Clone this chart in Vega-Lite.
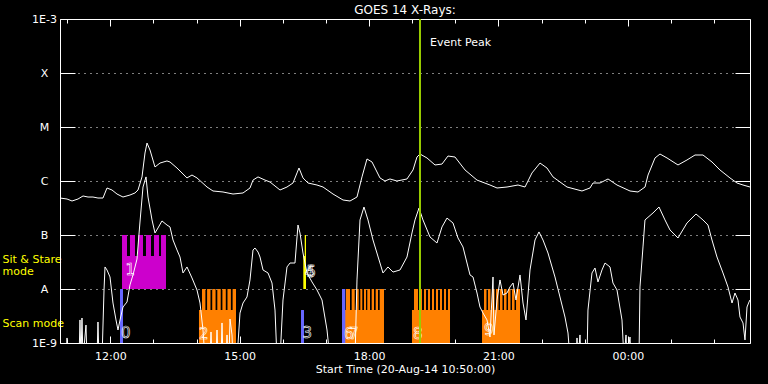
{
  "$schema": "https://vega.github.io/schema/vega-lite/v6.json",
  "width": 690,
  "height": 324,
  "autosize": {"type": "none"},
  "padding": {"left": 60, "top": 19, "right": 18, "bottom": 41},
  "background": "black",
  "title": {"text": "GOES 14 X-Rays:", "color": "white", "font": "DejaVu Sans", "fontSize": 12, "fontWeight": "normal", "anchor": "middle", "frame": "group", "offset": -4},
  "datasets": {
    "long": [
      {"h": 10.833, "flux": 4.84e-7}, {"h": 10.996, "flux": 4.64e-7}, {"h": 11.112, "flux": 4.26e-7}, {"h": 11.251, "flux": 4.64e-7},
      {"h": 11.367, "flux": 5.28e-7}, {"h": 11.483, "flux": 5.05e-7}, {"h": 11.598, "flux": 5.05e-7}, {"h": 11.714, "flux": 4.84e-7},
      {"h": 11.830, "flux": 4.84e-7}, {"h": 11.923, "flux": 7.42e-7}, {"h": 12.039, "flux": 6.81e-7}, {"h": 12.155, "flux": 5.74e-7},
      {"h": 12.294, "flux": 5.05e-7}, {"h": 12.456, "flux": 5.50e-7}, {"h": 12.572, "flux": 6.00e-7}, {"h": 12.642, "flux": 6.81e-7},
      {"h": 12.735, "flux": 1.19e-6}, {"h": 12.804, "flux": 3.30e-6}, {"h": 12.851, "flux": 5.05e-6}, {"h": 12.920, "flux": 3.75e-6},
      {"h": 13.036, "flux": 1.82e-6}, {"h": 13.152, "flux": 2.15e-6}, {"h": 13.314, "flux": 2.35e-6}, {"h": 13.384, "flux": 2.25e-6},
      {"h": 13.546, "flux": 1.74e-6}, {"h": 13.778, "flux": 1.14e-6}, {"h": 13.894, "flux": 1.29e-6}, {"h": 14.010, "flux": 1.14e-6},
      {"h": 14.242, "flux": 7.74e-7}, {"h": 14.381, "flux": 6.53e-7}, {"h": 14.613, "flux": 6.26e-7}, {"h": 14.845, "flux": 5.74e-7},
      {"h": 15.077, "flux": 6.00e-7}, {"h": 15.239, "flux": 7.42e-7}, {"h": 15.309, "flux": 1.04e-6}, {"h": 15.425, "flux": 1.19e-6},
      {"h": 15.587, "flux": 1.04e-6}, {"h": 15.703, "flux": 9.58e-7}, {"h": 15.935, "flux": 6.81e-7}, {"h": 16.097, "flux": 7.74e-7},
      {"h": 16.236, "flux": 9.18e-7}, {"h": 16.329, "flux": 1.41e-6}, {"h": 16.375, "flux": 1.74e-6}, {"h": 16.468, "flux": 1.14e-6},
      {"h": 16.584, "flux": 9.18e-7}, {"h": 16.792, "flux": 8.43e-7}, {"h": 16.932, "flux": 7.74e-7}, {"h": 17.164, "flux": 5.74e-7},
      {"h": 17.396, "flux": 4.45e-7}, {"h": 17.558, "flux": 4.26e-7}, {"h": 17.720, "flux": 5.05e-7}, {"h": 17.836, "flux": 1.19e-6},
      {"h": 17.952, "flux": 2.56e-6}, {"h": 18.068, "flux": 2.25e-6}, {"h": 18.253, "flux": 1.14e-6}, {"h": 18.369, "flux": 1.00e-6},
      {"h": 18.485, "flux": 1.09e-6}, {"h": 18.647, "flux": 1.00e-6}, {"h": 18.879, "flux": 1.09e-6}, {"h": 19.019, "flux": 1.60e-6},
      {"h": 19.111, "flux": 2.78e-6}, {"h": 19.181, "flux": 3.16e-6}, {"h": 19.343, "flux": 2.67e-6}, {"h": 19.529, "flux": 1.98e-6},
      {"h": 19.691, "flux": 2.06e-6}, {"h": 19.830, "flux": 2.90e-6}, {"h": 19.993, "flux": 2.78e-6}, {"h": 20.225, "flux": 1.60e-6},
      {"h": 20.503, "flux": 1.04e-6}, {"h": 20.804, "flux": 8.43e-7}, {"h": 20.967, "flux": 7.42e-7}, {"h": 21.199, "flux": 7.74e-7},
      {"h": 21.454, "flux": 8.43e-7}, {"h": 21.616, "flux": 7.74e-7}, {"h": 21.778, "flux": 1.41e-6}, {"h": 21.964, "flux": 2.15e-6},
      {"h": 22.126, "flux": 1.74e-6}, {"h": 22.265, "flux": 1.19e-6}, {"h": 22.590, "flux": 7.74e-7}, {"h": 22.937, "flux": 6.53e-7},
      {"h": 23.123, "flux": 7.42e-7}, {"h": 23.193, "flux": 9.18e-7}, {"h": 23.355, "flux": 9.18e-7}, {"h": 23.541, "flux": 1.09e-6},
      {"h": 23.749, "flux": 8.43e-7}, {"h": 24.051, "flux": 6.53e-7}, {"h": 24.236, "flux": 6.26e-7}, {"h": 24.399, "flux": 7.74e-7},
      {"h": 24.469, "flux": 1.29e-6}, {"h": 24.631, "flux": 2.67e-6}, {"h": 24.746, "flux": 3.16e-6}, {"h": 24.909, "flux": 2.67e-6},
      {"h": 25.164, "flux": 1.98e-6}, {"h": 25.372, "flux": 2.45e-6}, {"h": 25.558, "flux": 3.03e-6}, {"h": 25.743, "flux": 3.03e-6},
      {"h": 25.952, "flux": 2.25e-6}, {"h": 26.137, "flux": 1.60e-6}, {"h": 26.369, "flux": 1.14e-6}, {"h": 26.532, "flux": 9.18e-7},
      {"h": 26.671, "flux": 8.43e-7}, {"h": 26.833, "flux": 7.74e-7}
    ],
    "short": [
      {"h": 10.833, "flux": 5e-10}, {"h": 10.973, "flux": 5e-10}, {"h": 10.996, "flux": 1.24e-9}, {"h": 11.019, "flux": 5e-10},
      {"h": 11.274, "flux": 5e-10}, {"h": 11.297, "flux": 2.67e-9}, {"h": 11.320, "flux": 5e-10}, {"h": 11.343, "flux": 2.90e-9},
      {"h": 11.367, "flux": 5e-10}, {"h": 11.436, "flux": 2.15e-9}, {"h": 11.459, "flux": 5e-10}, {"h": 11.691, "flux": 5e-10},
      {"h": 11.714, "flux": 2.45e-9}, {"h": 11.738, "flux": 5e-10}, {"h": 11.807, "flux": 5e-10}, {"h": 11.854, "flux": 9.58e-9},
      {"h": 11.877, "flux": 2.56e-8}, {"h": 11.923, "flux": 2.25e-8}, {"h": 11.993, "flux": 1.67e-8}, {"h": 12.062, "flux": 5.50e-9},
      {"h": 12.132, "flux": 2.67e-9}, {"h": 12.178, "flux": 1.74e-9}, {"h": 12.225, "flux": 2.67e-9}, {"h": 12.294, "flux": 4.64e-9},
      {"h": 12.387, "flux": 5.74e-9}, {"h": 12.456, "flux": 1.19e-8}, {"h": 12.526, "flux": 1.82e-8}, {"h": 12.619, "flux": 3.59e-8},
      {"h": 12.688, "flux": 1.74e-7}, {"h": 12.758, "flux": 7.74e-7}, {"h": 12.828, "flux": 1.19e-6}, {"h": 12.874, "flux": 5.05e-7},
      {"h": 12.967, "flux": 1.90e-7}, {"h": 13.036, "flux": 1.09e-7}, {"h": 13.106, "flux": 1.35e-7}, {"h": 13.198, "flux": 1.82e-7},
      {"h": 13.314, "flux": 1.53e-7}, {"h": 13.384, "flux": 1.41e-7}, {"h": 13.454, "flux": 8.08e-8}, {"h": 13.546, "flux": 5.28e-8},
      {"h": 13.616, "flux": 3.91e-8}, {"h": 13.686, "flux": 1.98e-8}, {"h": 13.778, "flux": 2.56e-8}, {"h": 13.894, "flux": 1.60e-8},
      {"h": 14.010, "flux": 9.58e-9}, {"h": 14.080, "flux": 5.50e-9}, {"h": 14.149, "flux": 1.74e-9}, {"h": 14.196, "flux": 5e-10},
      {"h": 14.312, "flux": 5e-10}, {"h": 14.335, "flux": 1.60e-9}, {"h": 14.358, "flux": 5e-10}, {"h": 14.451, "flux": 5e-10},
      {"h": 14.474, "flux": 1.74e-9}, {"h": 14.497, "flux": 5e-10}, {"h": 14.567, "flux": 5e-10}, {"h": 14.590, "flux": 2.35e-9},
      {"h": 14.613, "flux": 5e-10}, {"h": 14.683, "flux": 5e-10}, {"h": 14.706, "flux": 1.41e-9}, {"h": 14.729, "flux": 5e-10},
      {"h": 14.752, "flux": 5e-10}, {"h": 14.775, "flux": 2.78e-9}, {"h": 14.822, "flux": 1.41e-9}, {"h": 14.845, "flux": 5e-10},
      {"h": 14.938, "flux": 5e-10}, {"h": 15.007, "flux": 3.59e-9}, {"h": 15.077, "flux": 5.50e-9}, {"h": 15.169, "flux": 7.11e-9},
      {"h": 15.239, "flux": 1.47e-8}, {"h": 15.309, "flux": 5.28e-8}, {"h": 15.355, "flux": 5.74e-8}, {"h": 15.425, "flux": 4.84e-8},
      {"h": 15.471, "flux": 3.91e-8}, {"h": 15.541, "flux": 2.25e-8}, {"h": 15.657, "flux": 1.98e-8}, {"h": 15.749, "flux": 1.29e-8},
      {"h": 15.819, "flux": 4.08e-9}, {"h": 15.865, "flux": 5e-10}, {"h": 15.935, "flux": 5e-10}, {"h": 16.004, "flux": 6.26e-9},
      {"h": 16.097, "flux": 2.56e-8}, {"h": 16.167, "flux": 3.03e-8}, {"h": 16.282, "flux": 3.03e-8}, {"h": 16.352, "flux": 1.53e-7},
      {"h": 16.398, "flux": 1.09e-7}, {"h": 16.468, "flux": 4.64e-8}, {"h": 16.561, "flux": 1.98e-8}, {"h": 16.677, "flux": 1.35e-8},
      {"h": 16.793, "flux": 9.58e-9}, {"h": 16.909, "flux": 6.26e-9}, {"h": 17.025, "flux": 1.74e-9}, {"h": 17.094, "flux": 5e-10},
      {"h": 17.674, "flux": 5e-10}, {"h": 17.720, "flux": 1.47e-8}, {"h": 17.790, "flux": 1.90e-7}, {"h": 17.882, "flux": 3.30e-7},
      {"h": 17.975, "flux": 1.90e-7}, {"h": 18.091, "flux": 8.08e-8}, {"h": 18.253, "flux": 3.03e-8}, {"h": 18.323, "flux": 1.98e-8},
      {"h": 18.439, "flux": 2.56e-8}, {"h": 18.555, "flux": 2.06e-8}, {"h": 18.717, "flux": 2.25e-8}, {"h": 18.879, "flux": 3.91e-8},
      {"h": 18.995, "flux": 1.09e-7}, {"h": 19.065, "flux": 1.90e-7}, {"h": 19.158, "flux": 3.16e-7}, {"h": 19.250, "flux": 1.90e-7},
      {"h": 19.413, "flux": 9.18e-8}, {"h": 19.575, "flux": 7.11e-8}, {"h": 19.691, "flux": 1.41e-7}, {"h": 19.807, "flux": 2.06e-7},
      {"h": 19.946, "flux": 1.67e-7}, {"h": 20.062, "flux": 8.80e-8}, {"h": 20.178, "flux": 6.00e-8}, {"h": 20.271, "flux": 3.03e-8},
      {"h": 20.341, "flux": 1.82e-8}, {"h": 20.410, "flux": 1.67e-8}, {"h": 20.503, "flux": 8.43e-9}, {"h": 20.572, "flux": 4.64e-9},
      {"h": 20.642, "flux": 3.59e-9}, {"h": 20.735, "flux": 2.67e-9}, {"h": 20.804, "flux": 1.29e-9}, {"h": 20.874, "flux": 1.67e-8},
      {"h": 20.897, "flux": 1.41e-9}, {"h": 20.967, "flux": 6.26e-9}, {"h": 21.036, "flux": 1.47e-8}, {"h": 21.106, "flux": 7.74e-9},
      {"h": 21.198, "flux": 8.43e-9}, {"h": 21.268, "flux": 1.09e-8}, {"h": 21.338, "flux": 1.29e-8}, {"h": 21.407, "flux": 6.26e-9},
      {"h": 21.500, "flux": 1.82e-8}, {"h": 21.570, "flux": 5.50e-9}, {"h": 21.639, "flux": 2.67e-9}, {"h": 21.732, "flux": 2.25e-8},
      {"h": 21.848, "flux": 8.08e-8}, {"h": 21.940, "flux": 1.14e-7}, {"h": 22.033, "flux": 8.08e-8}, {"h": 22.149, "flux": 4.64e-8},
      {"h": 22.311, "flux": 1.67e-8}, {"h": 22.427, "flux": 7.11e-9}, {"h": 22.543, "flux": 3.03e-9}, {"h": 22.613, "flux": 1.53e-9},
      {"h": 22.659, "flux": 5e-10}, {"h": 22.798, "flux": 5e-10}, {"h": 22.822, "flux": 1.24e-9}, {"h": 22.845, "flux": 5e-10},
      {"h": 22.891, "flux": 1.41e-9}, {"h": 22.914, "flux": 5e-10}, {"h": 23.053, "flux": 5e-10}, {"h": 23.076, "flux": 4.08e-9},
      {"h": 23.169, "flux": 1.98e-8}, {"h": 23.239, "flux": 2.45e-8}, {"h": 23.308, "flux": 1.35e-8}, {"h": 23.401, "flux": 2.25e-8},
      {"h": 23.471, "flux": 3.03e-8}, {"h": 23.587, "flux": 2.56e-8}, {"h": 23.656, "flux": 1.29e-8}, {"h": 23.749, "flux": 9.58e-9},
      {"h": 23.865, "flux": 2.67e-9}, {"h": 23.911, "flux": 5e-10}, {"h": 23.958, "flux": 1.41e-9}, {"h": 23.981, "flux": 5e-10},
      {"h": 24.051, "flux": 1.29e-9}, {"h": 24.074, "flux": 5e-10}, {"h": 24.259, "flux": 5e-10}, {"h": 24.282, "flux": 1.09e-8},
      {"h": 24.352, "flux": 6.00e-8}, {"h": 24.398, "flux": 1.90e-7}, {"h": 24.584, "flux": 2.56e-7}, {"h": 24.723, "flux": 3.30e-7},
      {"h": 24.862, "flux": 1.90e-7}, {"h": 24.978, "flux": 1.24e-7}, {"h": 25.164, "flux": 8.80e-8}, {"h": 25.372, "flux": 1.67e-7},
      {"h": 25.581, "flux": 2.45e-7}, {"h": 25.743, "flux": 1.90e-7}, {"h": 25.859, "flux": 1.53e-7}, {"h": 25.952, "flux": 8.08e-8},
      {"h": 26.068, "flux": 3.91e-8}, {"h": 26.207, "flux": 1.98e-8}, {"h": 26.323, "flux": 1.09e-8}, {"h": 26.416, "flux": 5.50e-9},
      {"h": 26.485, "flux": 8.43e-9}, {"h": 26.555, "flux": 6.26e-9}, {"h": 26.601, "flux": 3.03e-9}, {"h": 26.671, "flux": 2.35e-9},
      {"h": 26.717, "flux": 1.14e-9}, {"h": 26.764, "flux": 4.64e-9}, {"h": 26.810, "flux": 5.74e-9}, {"h": 26.833, "flux": 6.26e-9}
    ],
    "obs": [
      {"kind": "sitstare", "start": 12.271, "end": 13.291, "lo": 1e-8, "hi": 4.08e-8},
      {"kind": "sitstare", "start": 12.271, "end": 12.387, "lo": 1e-8, "hi": 1e-7},
      {"kind": "sitstare", "start": 12.456, "end": 12.572, "lo": 1e-8, "hi": 1e-7},
      {"kind": "sitstare", "start": 12.642, "end": 12.758, "lo": 1e-8, "hi": 1e-7},
      {"kind": "sitstare", "start": 12.828, "end": 12.943, "lo": 1e-8, "hi": 1e-7},
      {"kind": "sitstare", "start": 13.013, "end": 13.129, "lo": 1e-8, "hi": 1e-7},
      {"kind": "sitstare", "start": 13.175, "end": 13.291, "lo": 1e-8, "hi": 1e-7},
      {"kind": "scan", "start": 14.056, "end": 14.914, "lo": 1e-9, "hi": 4.08e-9},
      {"kind": "scan", "start": 14.126, "end": 14.205, "lo": 1e-9, "hi": 1e-8},
      {"kind": "scan", "start": 14.244, "end": 14.323, "lo": 1e-9, "hi": 1e-8},
      {"kind": "scan", "start": 14.363, "end": 14.441, "lo": 1e-9, "hi": 1e-8},
      {"kind": "scan", "start": 14.481, "end": 14.560, "lo": 1e-9, "hi": 1e-8},
      {"kind": "scan", "start": 14.599, "end": 14.678, "lo": 1e-9, "hi": 1e-8},
      {"kind": "scan", "start": 14.717, "end": 14.796, "lo": 1e-9, "hi": 1e-8},
      {"kind": "scan", "start": 14.836, "end": 14.914, "lo": 1e-9, "hi": 1e-8},
      {"kind": "scan", "start": 17.442, "end": 18.346, "lo": 1e-9, "hi": 4.08e-9},
      {"kind": "scan", "start": 17.465, "end": 17.558, "lo": 1e-9, "hi": 1e-8},
      {"kind": "scan", "start": 17.597, "end": 17.667, "lo": 1e-9, "hi": 1e-8},
      {"kind": "scan", "start": 17.704, "end": 17.760, "lo": 1e-9, "hi": 1e-8},
      {"kind": "scan", "start": 17.797, "end": 17.843, "lo": 1e-9, "hi": 1e-8},
      {"kind": "scan", "start": 17.883, "end": 17.929, "lo": 1e-9, "hi": 1e-8},
      {"kind": "scan", "start": 17.959, "end": 18.022, "lo": 1e-9, "hi": 1e-8},
      {"kind": "scan", "start": 18.061, "end": 18.115, "lo": 1e-9, "hi": 1e-8},
      {"kind": "scan", "start": 18.154, "end": 18.207, "lo": 1e-9, "hi": 1e-8},
      {"kind": "scan", "start": 18.247, "end": 18.346, "lo": 1e-9, "hi": 1e-8},
      {"kind": "scan", "start": 18.995, "end": 19.877, "lo": 1e-9, "hi": 4.08e-9},
      {"kind": "scan", "start": 19.042, "end": 19.135, "lo": 1e-9, "hi": 1e-8},
      {"kind": "scan", "start": 19.181, "end": 19.227, "lo": 1e-9, "hi": 1e-8},
      {"kind": "scan", "start": 19.274, "end": 19.320, "lo": 1e-9, "hi": 1e-8},
      {"kind": "scan", "start": 19.367, "end": 19.413, "lo": 1e-9, "hi": 1e-8},
      {"kind": "scan", "start": 19.460, "end": 19.506, "lo": 1e-9, "hi": 1e-8},
      {"kind": "scan", "start": 19.552, "end": 19.599, "lo": 1e-9, "hi": 1e-8},
      {"kind": "scan", "start": 19.645, "end": 19.691, "lo": 1e-9, "hi": 1e-8},
      {"kind": "scan", "start": 19.738, "end": 19.784, "lo": 1e-9, "hi": 1e-8},
      {"kind": "scan", "start": 19.830, "end": 19.877, "lo": 1e-9, "hi": 1e-8},
      {"kind": "scan", "start": 20.619, "end": 21.500, "lo": 1e-9, "hi": 4.08e-9},
      {"kind": "scan", "start": 20.665, "end": 20.723, "lo": 1e-9, "hi": 1e-8},
      {"kind": "scan", "start": 20.758, "end": 20.816, "lo": 1e-9, "hi": 1e-8},
      {"kind": "scan", "start": 20.851, "end": 20.909, "lo": 1e-9, "hi": 1e-8},
      {"kind": "scan", "start": 20.943, "end": 21.001, "lo": 1e-9, "hi": 1e-8},
      {"kind": "scan", "start": 21.036, "end": 21.094, "lo": 1e-9, "hi": 1e-8},
      {"kind": "scan", "start": 21.129, "end": 21.187, "lo": 1e-9, "hi": 1e-8},
      {"kind": "scan", "start": 21.222, "end": 21.280, "lo": 1e-9, "hi": 1e-8},
      {"kind": "scan", "start": 21.315, "end": 21.373, "lo": 1e-9, "hi": 1e-8},
      {"kind": "scan", "start": 21.408, "end": 21.500, "lo": 1e-9, "hi": 1e-8},
      {"kind": "blue", "start": 12.225, "end": 12.294, "lo": 1e-9, "hi": 1e-8},
      {"kind": "blue", "start": 16.422, "end": 16.491, "lo": 1e-9, "hi": 4.08e-9},
      {"kind": "blue", "start": 17.372, "end": 17.449, "lo": 1e-9, "hi": 1e-8},
      {"kind": "yellow", "start": 16.508, "end": 16.538, "lo": 1e-8, "hi": 1e-7},
      {"kind": "yellow", "start": 16.475, "end": 16.538, "lo": 1e-8, "hi": 4.08e-8}
    ],
    "nums": [
      {"label": "0", "h": 12.248, "flux": 1.24e-9},
      {"label": "1", "h": 12.352, "flux": 1.82e-8},
      {"label": "2", "h": 14.056, "flux": 1.19e-9},
      {"label": "3", "h": 16.456, "flux": 1.24e-9},
      {"label": "4", "h": 16.514, "flux": 1.67e-8},
      {"label": "5", "h": 16.549, "flux": 1.67e-8},
      {"label": "6", "h": 17.419, "flux": 1.19e-9},
      {"label": "7", "h": 17.535, "flux": 1.19e-9},
      {"label": "8", "h": 19.019, "flux": 1.19e-9},
      {"label": "9", "h": 20.665, "flux": 1.41e-9}
    ],
    "event": [
      {"h": 19.181, "label": "Event Peak", "flux": 3.59e-4}
    ]
  },
  "resolve": {"axis": {"x": "independent", "y": "independent"}},
  "layer": [
    {
      "data": {"name": "obs"},
      "mark": {"type": "rect", "clip": true},
      "encoding": {
        "x": {"field": "start", "type": "quantitative", "scale": {"domain": [10.8333, 26.8333], "nice": false, "zero": false},
              "axis": {"orient": "bottom", "values": [11, 13, 14, 16, 17, 19, 20, 22, 23, 25, 26], "labels": false, "domain": false, "tickSize": -4, "title": null, "grid": false}},
        "x2": {"field": "end"},
        "y": {"field": "lo", "type": "quantitative", "scale": {"type": "log", "domain": [1e-9, 1e-3], "nice": false},
              "axis": {"orient": "left", "values": [2.25e-9, 2.15e-8, 3.59e-8], "labelExpr": "datum.value > 3e-8 ? 'Sit & Stare' : datum.value > 1e-8 ? '\u00a0\u00a0\u00a0mode' : 'Scan mode'", "domain": false, "ticks": true, "tickSize": 0, "tickOpacity": 0, "grid": false, "labelAlign": "left", "labelBaseline": "middle", "labelPadding": 58, "labelColor": "#ffff00", "labelOverlap": false, "labelFlush": false, "title": null}},
        "y2": {"field": "hi"},
        "color": {"field": "kind", "type": "nominal", "scale": {"domain": ["sitstare", "scan", "blue", "yellow"], "range": ["#cc00cc", "#ff8000", "#6666ff", "#ffff00"]}, "legend": null}
      }
    },
    {
      "data": {"name": "long"},
      "mark": {"type": "line", "color": "white", "strokeWidth": 1, "clip": true},
      "encoding": {
        "x": {"field": "h", "type": "quantitative", "scale": {"domain": [10.8333, 26.8333], "nice": false, "zero": false},
              "axis": {"orient": "bottom", "values": [12, 15, 18, 21, 24], "labelExpr": "(datum.value % 24 < 10 ? '0' : '') + (datum.value % 24) + ':00'", "tickSize": -7, "labelPadding": 14, "labelFlush": false, "grid": false, "title": "Start Time (20-Aug-14 10:50:00)", "titlePadding": 2}},
        "y": {"field": "flux", "type": "quantitative", "scale": {"type": "log", "domain": [1e-9, 1e-3], "nice": false},
              "axis": {"orient": "left", "values": [1e-9, 1e-8, 1e-7, 1e-6, 1e-5, 1e-4, 1e-3], "labelExpr": "['1E-3','X','M','C','B','A','1E-9'][-3 - round(log(datum.value) / LN10)]", "tickSize": -15, "labelPadding": 31, "labelAlign": "center", "labelBaseline": "middle", "labelFlush": true, "labelOverlap": false, "grid": true, "gridColor": "white", "gridDash": [1, 5], "gridWidth": 1, "title": null}}
      }
    },
    {
      "data": {"name": "short"},
      "mark": {"type": "line", "color": "white", "strokeWidth": 1, "clip": true},
      "encoding": {
        "x": {"field": "h", "type": "quantitative", "scale": {"domain": [10.8333, 26.8333], "nice": false, "zero": false},
              "axis": {"orient": "top", "values": [12, 15, 18, 21, 24], "labels": false, "tickSize": -7, "grid": false, "title": null}},
        "y": {"field": "flux", "type": "quantitative", "scale": {"type": "log", "domain": [1e-9, 1e-3], "nice": false},
              "axis": {"orient": "right", "values": [1e-9, 1e-8, 1e-7, 1e-6, 1e-5, 1e-4, 1e-3], "labels": false, "tickSize": -15, "grid": false, "title": null}}
      }
    },
    {
      "data": {"name": "nums"},
      "mark": {"type": "text", "align": "left", "baseline": "alphabetic", "font": "DejaVu Sans", "fontSize": 15, "fill": "transparent", "stroke": "white", "strokeWidth": 0.6, "clip": true},
      "encoding": {
        "x": {"field": "h", "type": "quantitative", "scale": {"domain": [10.8333, 26.8333], "nice": false, "zero": false}, "axis": null},
        "y": {"field": "flux", "type": "quantitative", "scale": {"type": "log", "domain": [1e-9, 1e-3], "nice": false}, "axis": null},
        "text": {"field": "label"}
      }
    },
    {
      "data": {"name": "event"},
      "mark": {"type": "rule", "color": "#99cc00", "strokeWidth": 2},
      "encoding": {
        "x": {"field": "h", "type": "quantitative", "scale": {"domain": [10.8333, 26.8333], "nice": false, "zero": false},
              "axis": {"orient": "top", "values": [11, 13, 14, 16, 17, 19, 20, 22, 23, 25, 26], "labels": false, "domain": false, "tickSize": -4, "grid": false, "title": null}}
      }
    },
    {
      "data": {"name": "event"},
      "mark": {"type": "text", "align": "left", "baseline": "middle", "dx": 10, "font": "DejaVu Sans", "fontSize": 11, "color": "white"},
      "encoding": {
        "x": {"field": "h", "type": "quantitative", "scale": {"domain": [10.8333, 26.8333], "nice": false, "zero": false}, "axis": null},
        "y": {"field": "flux", "type": "quantitative", "scale": {"type": "log", "domain": [1e-9, 1e-3], "nice": false}, "axis": null},
        "text": {"field": "label"}
      }
    }
  ],
  "config": {
    "view": {"stroke": null},
    "axis": {"domainColor": "white", "tickColor": "white", "labelColor": "white", "labelFont": "DejaVu Sans", "labelFontSize": 11, "titleFont": "DejaVu Sans", "titleFontSize": 11, "titleColor": "white", "titleFontWeight": "normal", "grid": false}
  }
}
